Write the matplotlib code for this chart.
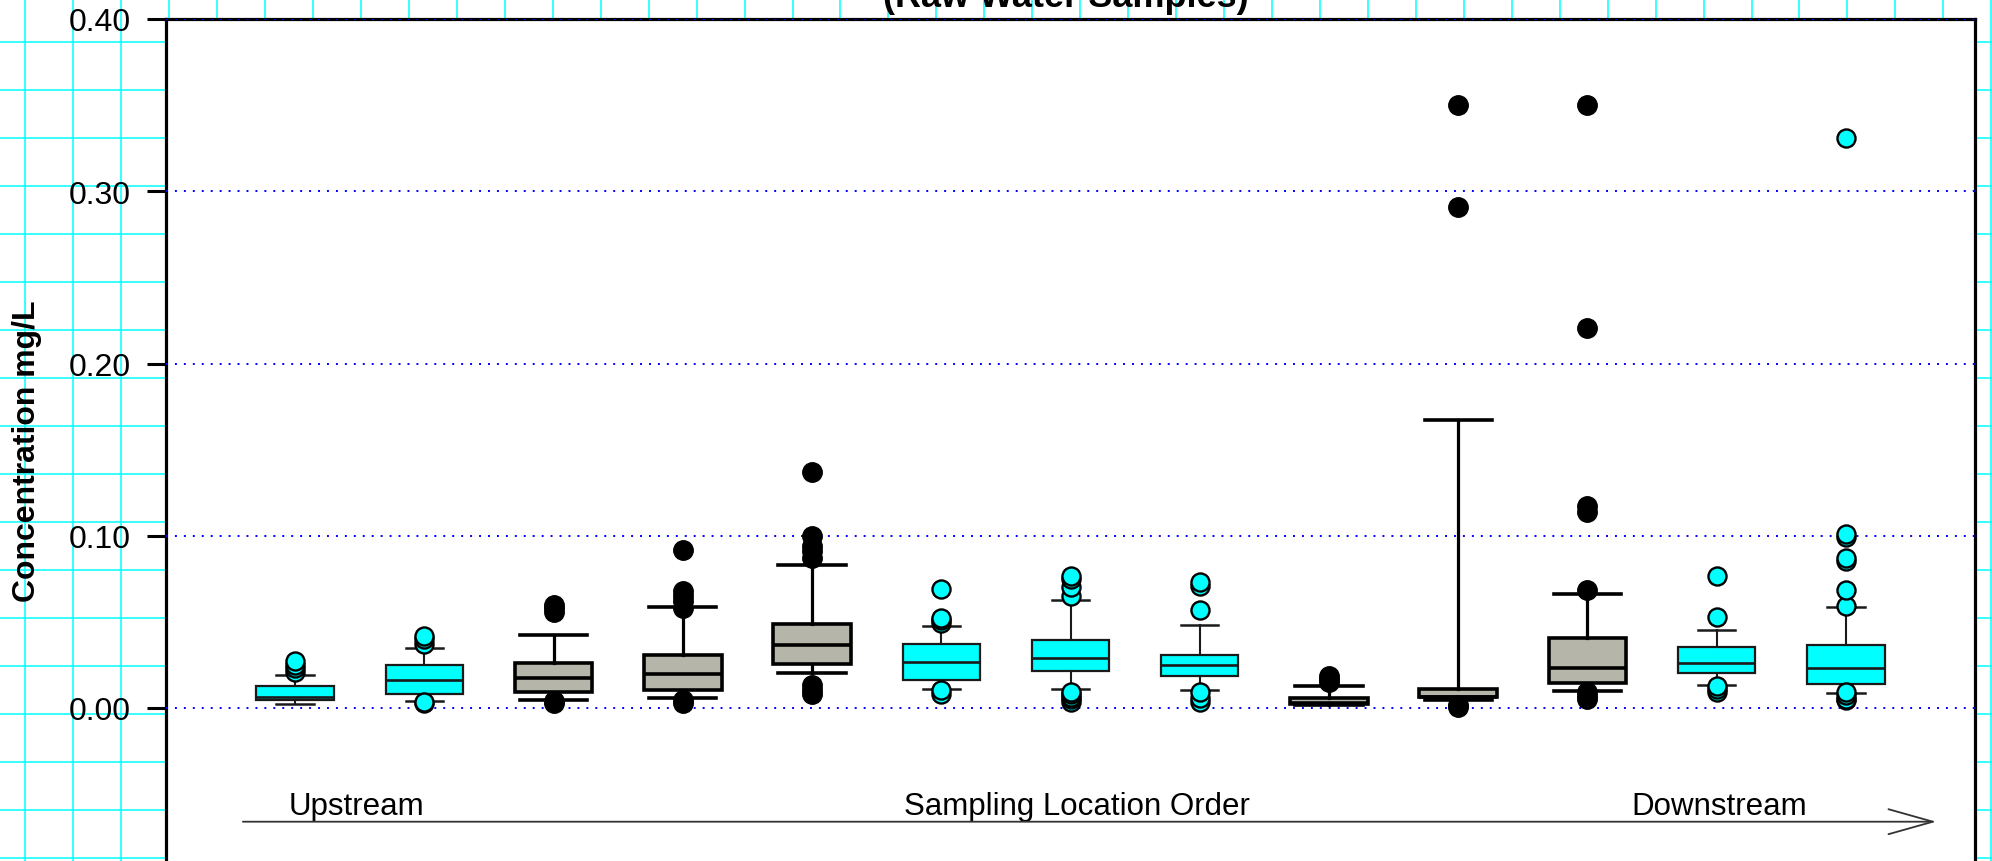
import numpy as np
import matplotlib
matplotlib.use("Agg")
import matplotlib.pyplot as plt

plt.rcParams['font.family'] = ['Liberation Sans', 'DejaVu Sans']

# ---------------- data ----------------
positions = [1, 2, 3, 4, 5, 6, 7, 8, 9, 10, 11, 12, 13]
sample_type = ['C', 'C', 'G', 'G', 'G', 'C', 'C', 'C', 'G', 'G', 'G', 'C', 'C']

q1 = [0.0044, 0.0081, 0.0091, 0.0104, 0.0255, 0.0162, 0.0215, 0.0186, 0.0022, 0.0066, 0.0145, 0.0201, 0.0141]
med = [0.0061, 0.0164, 0.0174, 0.0199, 0.0368, 0.0265, 0.0288, 0.0248, 0.0030, 0.0064, 0.0230, 0.0259, 0.0230]
q3 = [0.0126, 0.0251, 0.0263, 0.0309, 0.0486, 0.0370, 0.0393, 0.0306, 0.0058, 0.0110, 0.0404, 0.0356, 0.0364]
whislo = [0.0023, 0.0039, 0.0048, 0.0056, 0.0205, 0.0110, 0.0110, 0.0104, 0.0015, 0.0044, 0.0099, 0.0133, 0.0089]
whishi = [0.0193, 0.0348, 0.0426, 0.0584, 0.0828, 0.0476, 0.0625, 0.0482, 0.0130, 0.1670, 0.0664, 0.0453, 0.0586]

fliers = [
    [0.021, 0.023, 0.025, 0.027],
    [0.003, 0.0035, 0.037, 0.040, 0.042],
    [0.003, 0.004, 0.056, 0.058, 0.060],
    [0.0027, 0.0048, 0.058, 0.062, 0.065, 0.068, 0.092],
    [0.008, 0.0105, 0.0135, 0.087, 0.091, 0.094, 0.100, 0.137],
    [0.008, 0.0105, 0.0495, 0.051, 0.0525, 0.069],
    [0.0035, 0.005, 0.0065, 0.008, 0.009, 0.065, 0.070, 0.075, 0.0765],
    [0.0035, 0.006, 0.009, 0.0567, 0.071, 0.073],
    [0.015, 0.017, 0.0185],
    [0.0006, 0.0015, 0.291, 0.350],
    [0.0055, 0.007, 0.009, 0.0683, 0.114, 0.117, 0.2205, 0.350],
    [0.0093, 0.011, 0.0129, 0.0528, 0.0764],
    [0.0045, 0.0055, 0.0075, 0.009, 0.0594, 0.0683, 0.0856, 0.0873, 0.099, 0.101, 0.331],
]

yticks = [0.00, 0.10, 0.20, 0.30, 0.40]
title = "(Raw Water Samples)"
ylabel = "Concentration mg/L"
order_labels = ["Upstream", "Sampling Location Order", "Downstream"]

# ---------------- figure ----------------
W, H = 1992, 862
fig = plt.figure(figsize=(W / 100, H / 100), dpi=100)
fig.patch.set_facecolor('white')

# graph-paper background
bg = fig.add_axes([0, 0, 1, 1], zorder=-10)
bg.set_xlim(0, W)
bg.set_ylim(H, 0)
bg.axis('off')
for gx in np.arange(25.3, W, 47.95):
    bg.axvline(gx, color='#00FFFF', lw=1.1)
for gy in np.arange(43.3 - 48.0, H, 48.0):
    bg.axhline(gy, color='#00FFFF', lw=1.1)

# main axes
ymin, ymax = -0.10, 0.40
px_per_unit = (709 - 20) / 0.40
bottom_px = 709 + (0 - ymin) * px_per_unit
left_px, right_px, top_px = 166, 1975, 20
ax = fig.add_axes([left_px / W, (H - bottom_px) / H,
                   (right_px - left_px) / W, (bottom_px - top_px) / H])
ax.set_zorder(1)
ax.set_facecolor('white')
ax.set_xlim(0, 14)
ax.set_ylim(ymin, ymax)

for v in yticks:
    ax.axhline(v, color='#0000FF', lw=1.4, ls=(0, (1, 3.6)), zorder=2.6)

def make_stats(idx):
    return [dict(med=med[i], q1=q1[i], q3=q3[i], whislo=whislo[i],
                 whishi=whishi[i], fliers=fliers[i]) for i in idx]

idx_c = [i for i, t in enumerate(sample_type) if t == 'C']
idx_g = [i for i, t in enumerate(sample_type) if t == 'G']

ec = '#1a1a1a'
ax.bxp(make_stats(idx_c), positions=[positions[i] for i in idx_c],
       widths=0.6, capwidths=0.29, patch_artist=True, manage_ticks=False,
       boxprops=dict(facecolor='#00FFFF', edgecolor=ec, linewidth=1.6),
       medianprops=dict(color=ec, linewidth=1.9),
       whiskerprops=dict(color=ec, linewidth=1.5),
       capprops=dict(color=ec, linewidth=1.8),
       flierprops=dict(marker='o', markerfacecolor='#00FFFF',
                       markeredgecolor='black', markersize=13,
                       markeredgewidth=1.7),
       zorder=4)

ax.bxp(make_stats(idx_g), positions=[positions[i] for i in idx_g],
       widths=0.6, capwidths=0.52, patch_artist=True, manage_ticks=False,
       boxprops=dict(facecolor='#B5B5A9', edgecolor='black', linewidth=2.6),
       medianprops=dict(color='black', linewidth=2.6),
       whiskerprops=dict(color='black', linewidth=2.3),
       capprops=dict(color='black', linewidth=2.6),
       flierprops=dict(marker='o', markerfacecolor='black',
                       markeredgecolor='black', markersize=14),
       zorder=4)

ax.set_xticks([])
ax.set_yticks(yticks)
ax.set_yticklabels([f"{v:.2f}" for v in yticks])
ax.tick_params(axis='y', direction='out', length=13.5, width=2.2, pad=12,
               labelsize=23, colors='black')
for s in ['left', 'right', 'top', 'bottom']:
    ax.spines[s].set_linewidth(2.3)
    ax.spines[s].set_color('black')

# sampling order annotations
y_txt = (709 - 815) / px_per_unit
y_arrow = (709 - 822.7) / px_per_unit
ax.text(0.95, y_txt, order_labels[0], fontsize=22.5, ha='left', va='baseline')
ax.text(7.05, y_txt, order_labels[1], fontsize=22.5, ha='center', va='baseline')
ax.text(11.34, y_txt, order_labels[2], fontsize=22.5, ha='left', va='baseline')
ax.annotate('', xy=(13.70, y_arrow), xytext=(0.595, y_arrow),
            arrowprops=dict(arrowstyle='->,head_length=3.2,head_width=0.9',
                            lw=1.3, color='#333333', shrinkA=0, shrinkB=0,
                            mutation_scale=10))

# title (mostly cut off at top) and y label
fig.text(1065.5 / W, 1 - 7 / H, title, ha='center', va='baseline',
         fontsize=26, fontweight='bold')
fig.text(27.5 / W, 1 - 451 / H, ylabel, rotation=90, ha='center', va='center',
         fontsize=23, fontweight='bold')

fig.savefig('out.png', dpi=100)
